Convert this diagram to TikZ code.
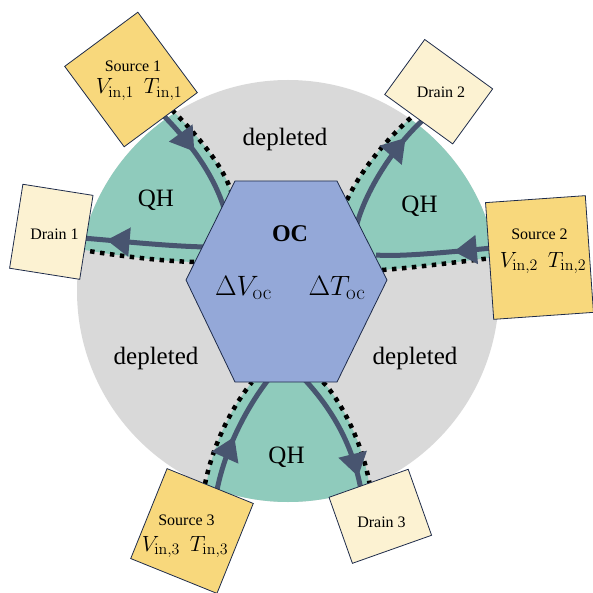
\documentclass[tikz,border=0pt]{standalone}
\usepackage{fix-cm}
\usepackage[no-math]{fontspec}
\setmainfont{Liberation Serif}
\newcommand{\subrm}[2]{\mbox{\fontsize{#1}{#1}\usefont{OT1}{cmr}{m}{n}#2}}
\usetikzlibrary{arrows.meta,decorations.markings}
\definecolor{grayc}{HTML}{D9D9D9}
\definecolor{tealc}{HTML}{8FCBBC}
\definecolor{edgec}{HTML}{485570}
\definecolor{hexc}{HTML}{94A8D8}
\definecolor{srcc}{HTML}{F8D87C}
\definecolor{drnc}{HTML}{FCF2D2}
\definecolor{bordc}{HTML}{1E2B4A}
\tikzset{
  edgeline/.style={draw=edgec,line width=5pt},
  dotline/.style={draw=black,line width=4.5pt,dash pattern=on 4.5pt off 5.5pt},
  arr/.style={postaction={decorate,decoration={markings,mark=at position #1 with {\arrow{Triangle[length=23pt,width=28pt]}}}}},
  srcbox/.style={draw=bordc,line width=0.8pt,fill=srcc,inner sep=0pt},
  drnbox/.style={draw=bordc,line width=0.8pt,fill=drnc,inner sep=0pt},
  hexstyle/.style={draw=bordc,line width=0.8pt,fill=hexc},
  small/.style={font=\fontsize{16}{18}\selectfont,anchor=base,inner sep=0pt},
  mlab/.style={font=\fontsize{22}{24}\selectfont,anchor=base,inner sep=0pt},
  big/.style={font=\fontsize{25}{28}\selectfont,anchor=base,inner sep=0pt},
  hexlab/.style={font=\fontsize{28}{30}\selectfont,anchor=base,inner sep=0pt},
}
\begin{document}
\begin{tikzpicture}[x=1pt,y=-1pt]
\useasboundingbox (0,0) rectangle (592,593);
% disk
\fill[grayc] (288,291) circle (211);
% QH regions
\begin{scope}
\clip (288,291) circle (211);
\fill[tealc] (172,110) .. controls (193,131) and (222,163) .. (231,191) -- (250,230) -- (194,262) .. controls (160,261) and (120,256) .. (85,250) -- (0,248) -- (0,0) -- (160,0) -- cycle;
\fill[tealc] (412,117) .. controls (385,140) and (360,172) .. (347,200) -- (330,240) -- (382,270) .. controls (410,268) and (450,263) .. (488,258) -- (600,258) -- (600,0) -- (425,0) -- cycle;
\fill[tealc] (207,481) .. controls (213,445) and (230,410) .. (252,382) -- (290,360) -- (323,382) .. controls (340,400) and (362,440) .. (369,483) -- (390,600) -- (190,600) -- cycle;
\end{scope}
% coordinates
\coordinate (d1a) at (172,110); \coordinate (d1b) at (231,191);
\coordinate (d2a) at (194,262); \coordinate (d2b) at (82,250);
\coordinate (d3a) at (347,200); \coordinate (d3b) at (414,115);
\coordinate (d4a) at (382,270); \coordinate (d4b) at (492,258);
\coordinate (d5a) at (205,484); \coordinate (d5b) at (252,382);
\coordinate (d6a) at (323,382); \coordinate (d6b) at (370,486);
\coordinate (e1a) at (160,112); \coordinate (e1b) at (224,208);
\coordinate (e2a) at (205,247); \coordinate (e2b) at (82,238);
\coordinate (e3a) at (357,224); \coordinate (e3b) at (423,120);
\coordinate (e4a) at (492,248); \coordinate (e4b) at (376,255);
\coordinate (e5a) at (217,490); \coordinate (e5b) at (268,380);
\coordinate (e6a) at (305,380); \coordinate (e6b) at (361,490);
% dotted boundaries
\draw[dotline] (d1a) .. controls (193,131) and (222,163) .. (d1b);
\draw[dotline] (d2a) .. controls (160,261) and (120,256) .. (d2b);
\draw[dotline] (d3a) .. controls (360,172) and (385,140) .. (d3b);
\draw[dotline] (d4a) .. controls (410,268) and (450,263) .. (d4b);
\draw[dotline] (d5a) .. controls (213,445) and (230,410) .. (d5b);
\draw[dotline] (d6a) .. controls (340,400) and (362,440) .. (d6b);
% edge channels
\draw[edgeline,arr=0.45] (e1a) .. controls (185,137) and (212,170) .. (e1b);
\draw[edgeline,arr=0.8] (e2a) .. controls (165,246) and (120,241) .. (e2b);
\draw[edgeline,arr=0.8] (e3a) .. controls (366,190) and (395,145) .. (e3b);
\draw[edgeline,arr=0.33] (e4a) .. controls (450,252) and (400,257) .. (e4b);
\draw[edgeline,arr=0.46] (e5a) .. controls (225,450) and (245,410) .. (e5b);
\draw[edgeline,arr=0.89] (e6a) .. controls (328,405) and (352,440) .. (e6b);
% hexagon
\draw[hexstyle] (235,181) -- (337,181) -- (387,280) -- (337,382) -- (235,382) -- (186,280) -- cycle;
\node[font=\fontsize{24}{26}\selectfont\bfseries,anchor=base,inner sep=0pt] (oc) at (290,242) {OC};
\node[hexlab] (dv) at (243.5,295) {$\Delta V_{\subrm{21}{oc}}$};
\node[hexlab] (dt) at (337,295) {$\Delta T_{\subrm{21}{oc}}$};
% region labels
\node[big] (dep1) at (285,146) {depleted};
\node[big] (dep2) at (156,364) {depleted};
\node[big] (dep3) at (415,364) {depleted};
\node[big] (qh1) at (156,207) {QH};
\node[big] (qh2) at (419.5,213) {QH};
\node[big] (qh3) at (286.5,463) {QH};
% contacts
\node[srcbox,minimum width=91pt,minimum height=100pt,rotate=36.5] (src1) at (131,79.5) {};
\node[drnbox,minimum width=71pt,minimum height=85pt,rotate=-9] (drn1) at (51.3,231.8) {};
\node[drnbox,minimum width=84pt,minimum height=68pt,rotate=-36] (drn2) at (438.7,91.7) {};
\node[srcbox,minimum width=100pt,minimum height=117pt,rotate=4] (src2) at (539.5,257.5) {};
\node[srcbox,minimum width=93pt,minimum height=97pt,rotate=-22] (src3) at (192,531) {};
\node[drnbox,minimum width=84pt,minimum height=70pt,rotate=19.5] (drn3) at (380.3,516.3) {};
\node[small] (src1t) at (133,72) {Source 1};
\node[mlab] (src1m) at (139,94) {$V_{\subrm{16}{in,1}}\;\,T_{\subrm{16}{in,1}}$};
\node[small] (drn1t) at (54.5,240) {Drain 1};
\node[small] (drn2t) at (441,98) {Drain 2};
\node[small] (src2t) at (539.5,240) {Source 2};
\node[mlab] (src2m) at (543,267) {$V_{\subrm{16}{in,2}}\;\,T_{\subrm{16}{in,2}}$};
\node[small] (src3t) at (186.5,525) {Source 3};
\node[mlab] (src3m) at (185,551) {$V_{\subrm{16}{in,3}}\;\,T_{\subrm{16}{in,3}}$};
\node[small] (drn3t) at (381.5,527) {Drain 3};
\end{tikzpicture}
\end{document}
